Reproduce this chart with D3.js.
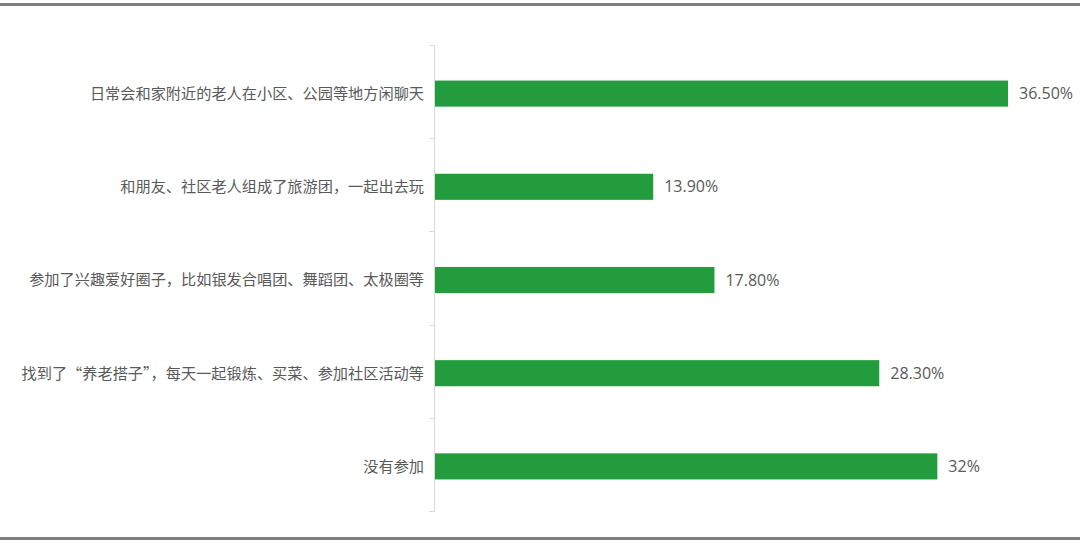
<!DOCTYPE html>
<html>
<head>
<meta charset="utf-8">
<script src="https://cdn.jsdelivr.net/npm/d3@7"></script>
<style>
  body { margin: 0; background: #fff; }
  svg { display: block; }
</style>
</head>
<body>
<svg id="chart" width="1080" height="544"></svg>
<script>
const categories = [
    "日常会和家附近的老人在小区、公园等地方闲聊天",
    "和朋友、社区老人组成了旅游团，一起出去玩",
    "参加了兴趣爱好圈子，比如银发合唱团、舞蹈团、太极圈等",
    "找到了\u201c养老搭子\u201d，每天一起锻炼、买菜、参加社区活动等",
    "没有参加"
];
const values = [36.5, 13.9, 17.8, 28.3, 32];
const valueLabels = ["36.50%", "13.90%", "17.80%", "28.30%", "32%"];

const svg = d3.select("#chart");
const width = +svg.attr("width");
const height = +svg.attr("height");
const margin = { top: 45, bottom: 33, left: 435 };

// frame lines top and bottom
svg.append("rect").attr("x", 0).attr("y", 3).attr("width", width).attr("height", 3).attr("fill", "#7f7f7f");
svg.append("rect").attr("x", 0).attr("y", 537).attr("width", width).attr("height", 3).attr("fill", "#7f7f7f");

const x = d3.scaleLinear()
    .domain([0, 36.5])
    .range([margin.left, 1008]);

// bars sit a touch below the band centre
const y = d3.scaleBand()
    .domain(categories)
    .range([margin.top + 2, height - margin.bottom + 2])
    .paddingInner(0.72)
    .paddingOuter(0.36);

const band = d3.scaleBand()
    .domain(categories)
    .range([margin.top, height - margin.bottom]);

// axis line and ticks at category boundaries
const boundaries = categories.map(c => band(c)).concat([height - margin.bottom]);
svg.append("line")
    .attr("x1", margin.left - 0.5).attr("x2", margin.left - 0.5)
    .attr("y1", margin.top).attr("y2", height - margin.bottom)
    .attr("stroke", "#d9d9d9");
svg.append("g")
    .selectAll("line")
    .data(boundaries)
    .enter().append("line")
    .attr("x1", margin.left - 6).attr("x2", margin.left)
    .attr("y1", d => Math.round(d) + 0.5).attr("y2", d => Math.round(d) + 0.5)
    .attr("stroke", "#d9d9d9");

// bars
svg.selectAll(".bar")
    .data(values)
    .enter().append("rect")
    .attr("class", "bar")
    .attr("x", x(0))
    .attr("y", (d, i) => y(categories[i]))
    .attr("width", d => x(d) - x(0))
    .attr("height", y.bandwidth())
    .attr("fill", "#229c3c");

// category labels
svg.append("g")
    .selectAll("text")
    .data(categories)
    .enter().append("text")
    .attr("x", margin.left - 11)
    .attr("y", d => y(d) + y.bandwidth() / 2)
    .attr("dy", "0.35em")
    .attr("text-anchor", "end")
    .attr("fill", "#595959")
    .style("font-family", "'Noto Sans CJK SC', sans-serif")
    .style("font-size", "15.2px")
    .text(d => d);

// value labels
svg.append("g")
    .selectAll("text")
    .data(values)
    .enter().append("text")
    .attr("x", d => x(d) + 11)
    .attr("y", (d, i) => y(categories[i]) + y.bandwidth() / 2)
    .attr("dy", "0.35em")
    .attr("fill", "#595959")
    .style("font-family", "'Open Sans', sans-serif")
    .style("font-size", "16px")
    .text((d, i) => valueLabels[i]);
</script>
</body>
</html>
